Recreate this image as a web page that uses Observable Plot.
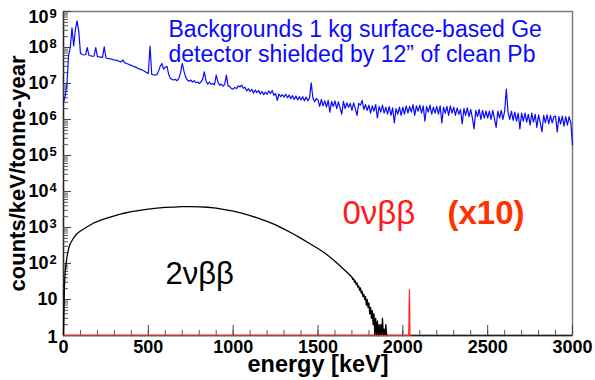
<!DOCTYPE html>
<html><head><meta charset="utf-8">
<script src="https://cdn.jsdelivr.net/npm/d3@7"></script>
<script src="https://cdn.jsdelivr.net/npm/@observablehq/plot@0.6"></script>
<style>body{margin:0;background:#fff}</style>
</head><body><div id="chart"></div>
<script>
// ---- data ----
// background spectrum (counts/keV/tonne-year), 10 keV bins from 0 to 3000 keV
const bgBinWidth = 10;
const bgCounts = [
 3.0e6,4.5e6,9e6,6e7,1.0e8,3.5e8,1.1e8,3.2e8,5.5e8,2.8e8,
 7.0e7,6.4e7,6.2e7,6.3e7,1.0e8,6.0e7,5.9e7,5.7e7,5.8e7,1.0e8,
 5.6e7,5.5e7,5.4e7,5.3e7,1.05e8,5.2e7,5.0e7,4.9e7,4.8e7,4.6e7,
 4.5e7,4.4e7,4.3e7,4.1e7,4.0e7,4.5e7,3.8e7,3.6e7,3.5e7,3.3e7,
 3.2e7,3.0e7,2.9e7,2.8e7,2.6e7,2.5e7,2.4e7,2.3e7,2.15e7,2.0e7,
 1.9e7,1.1e8,1.8e7,1.75e7,1.7e7,1.75e7,2.2e7,3.0e7,3.6e7,2.5e7,
 2.8e7,3.0e7,1.8e7,1.4e7,1.3e7,1.25e7,1.3e7,1.2e7,1.4e7,2.0e7,
 3.6e7,2.2e7,1.5e7,1.25e7,1.15e7,1.25e7,1.1e7,1.2e7,1.05e7,1.1e7,
 1.0e7,1.1e7,1.3e7,2.1e7,1.2e7,9.6e6,1.1e7,9.4e6,1.0e7,9.2e6,
 1.7e7,1.1e7,9.0e6,9.6e6,8.5e6,9.3e6,1.7e7,8.6e6,8.2e6,7.2e6,
 7.0e6,7.8e6,7.2e6,8.6e6,8.0e6,9.0e6,7.4e6,7.8e6,6.2e6,7.2e6,
 6.0e6,6.9e6,5.4e6,6.6e6,5.6e6,6.4e6,5.1e6,6.0e6,4.9e6,5.8e6,
 5.0e6,6.2e6,5.3e6,6.4e6,4.7e6,5.2e6,3.4e6,5.1e6,4.3e6,4.9e6,
 4.2e6,5.0e6,4.0e6,4.8e6,3.8e6,4.6e6,3.6e6,4.5e6,3.5e6,4.3e6,
 3.5e6,4.3e6,3.3e6,4.2e6,3.3e6,4.0e6,1.05e7,3.9e6,3.1e6,3.8e6,
 3.5e6,2.3e6,3.6e6,2.4e6,3.3e6,2.2e6,3.4e6,1.6e6,3.2e6,2.3e6,
 3.3e6,2.0e6,3.1e6,2.1e6,1.4e6,3.2e6,2.0e6,2.9e6,2.2e6,2.8e6,
 1.8e6,2.9e6,2.0e6,1.3e6,2.8e6,2.5e6,3.4e6,1.9e6,2.6e6,1.8e6,
 2.5e6,1.5e6,2.4e6,1.7e6,2.6e6,1.1e6,2.3e6,1.6e6,2.5e6,1.5e6,
 2.2e6,1.4e6,2.3e6,1.3e6,2.1e6,8.0e5,2.0e6,1.4e6,2.2e6,1.3e6,
 2.2e6,1.4e6,2.4e6,1.5e6,2.3e6,1.6e6,2.6e6,1.3e6,2.4e6,1.7e6,
 2.5e6,1.5e6,2.4e6,9.0e5,2.3e6,1.6e6,2.5e6,1.4e6,2.2e6,1.5e6,
 2.3e6,1.4e6,2.4e6,8.0e5,2.2e6,1.5e6,2.3e6,1.3e6,2.4e6,1.5e6,
 2.2e6,1.3e6,2.1e6,1.4e6,1.9e6,7.5e5,2.0e6,1.3e6,2.1e6,1.2e6,
 1.9e6,1.1e6,5.5e5,1.8e6,1.2e6,1.9e6,1.0e6,1.8e6,1.1e6,1.7e6,
 1.1e6,1.7e6,1.0e6,1.8e6,1.05e6,6.0e5,1.7e6,1.1e6,1.8e6,1.0e6,
 1.7e6,7.0e6,1.6e6,1.0e6,1.7e6,9.5e5,1.6e6,9.0e5,1.5e6,5.5e5,
 1.5e6,9.0e5,1.5e6,8.5e5,1.4e6,7.0e5,1.5e6,8.5e5,1.4e6,6.0e5,
 1.35e6,8.0e5,4.5e5,1.3e6,8.0e5,1.35e6,7.5e5,1.3e6,8.0e5,1.2e6,
 1.25e6,4.5e5,1.2e6,7.5e5,1.25e6,6.5e5,1.2e6,7.0e5,1.2e6,8.0e5,
 2.0e5
];
// 2νββ spectrum
const twoNuEnergy = [0,5,10,20,30,40,60,80,100,140,180,220,260,300,350,400,450,500,550,600,650,700,750,800,850,900,950,1000,1050,1100,1150,1200,1250,1300,1350,1400,1450,1500,1550,1600,1650,1700,1705,1710,1715,1720,1725,1730,1735,1740,1745,1750,1755,1760,1765,1770,1775,1780,1785,1790,1795,1800,1805,1810,1815,1820,1825,1830,1835,1840,1845,1850,1855,1860,1865,1870,1875,1880,1885,1890,1895,1900,1905,1910];
const twoNuCounts = [1,20,60,150,260,360,520,680,800,1050,1350,1600,1850,2100,2450,2750,3000,3250,3450,3600,3700,3780,3800,3760,3650,3450,3150,2850,2500,2150,1800,1480,1180,900,680,500,360,260,180,115,70,42,36,38,30,33,26,29,22,24,18,21,15,17,12,14,10,12,7,10,6,8,4,6,3,5,2,4,1,3,1,2.5,1,2,1,2,1,3,1,1.5,1,2,1,1];
// 0νββ (x10)
const zeroNuEnergy = [0,2034,2036,2037,2038,2039,2040,2041,2042,2045];
const zeroNuCounts = [1,1,2,7,12,19,10,4,1,1];
// axis ticks
const xMajorTicks = [0,500,1000,1500,2000,2500,3000];
const xMinorTicks = d3.range(0,3001,100);
const yPowers = [0,1,2,3,4,5,6,7,8,9];
const yMinorMult = [2,3,4,5,6,7,8,9];
// text
const bgLabel = "Backgrounds 1 kg surface-based Ge\ndetector shielded by 12\u201d of clean Pb";
const zeroNuLabel = "0νββ";
const zeroNuScale = "(x10)";
const twoNuLabel = "2νββ";
const xLabel = "energy [keV]";
const yLabel = "counts/keV/tonne-year";

// ---- build ----
const W = 595, H = 380, mL = 63, mR = 23, mT = 11, mB = 45;
const pw = W - mL - mR, ph = H - mT - mB;
const FONT = "'Liberation Sans', Arial, Helvetica, sans-serif";
const bg = bgCounts.map((c, i) => ({e: i * bgBinWidth, c}));
const twoNu = twoNuEnergy.map((e, i) => ({e, c: twoNuCounts[i]}));
const zeroNu = zeroNuEnergy.map((e, i) => ({e, c: zeroNuCounts[i]}));
const yMajor = yPowers.map(p => 10 ** p);
const yMinor = yPowers.slice(0, -1).flatMap(p => yMinorMult.map(m => m * 10 ** p));
const powLabels = yPowers.filter(p => p >= 2);

const chart = Plot.plot({
  width: W, height: H,
  marginLeft: mL, marginRight: mR, marginTop: mT, marginBottom: mB,
  x: {domain: [0, 3000], axis: null},
  y: {type: "log", domain: [1, 1e9], axis: null},
  style: {fontFamily: FONT, background: "#fff", color: "#000"},
  marks: [
    Plot.frame({stroke: "#7a7a7a", strokeWidth: 1.5}),
    Plot.ruleX([0], {stroke: "#222", strokeWidth: 1.3}),
    Plot.ruleY([1], {stroke: "#222", strokeWidth: 1.3}),
    Plot.ruleY(yMinor, {y: d => d, stroke: "#555", insetRight: pw - 5}),
    Plot.ruleY(yMajor, {y: d => d, stroke: "#444", insetRight: pw - 8}),
    Plot.ruleX(xMinorTicks, {x: d => d, stroke: "#555", insetTop: ph - 5}),
    Plot.ruleX(xMajorTicks, {x: d => d, stroke: "#444", insetTop: ph - 10}),
    Plot.line(bg, {x: "e", y: "c", stroke: "#0a0aff", strokeWidth: 1.2}),
    Plot.line(twoNu, {x: "e", y: "c", stroke: "#000", strokeWidth: 1.3}),
    Plot.line(zeroNu, {x: "e", y: "c", stroke: "#ff2020", strokeWidth: 1.1}),
    // y tick labels
    Plot.text(powLabels.filter(p => p < 9), {y: p => 10 ** p, text: () => "10", frameAnchor: "left", textAnchor: "end", lineAnchor: "top", dx: -15, dy: -7, fontSize: 18, fontWeight: "bold"}),
    Plot.text(powLabels.filter(p => p < 9), {y: p => 10 ** p, text: p => String(p), frameAnchor: "left", textAnchor: "start", lineAnchor: "top", dx: -14, dy: -9, fontSize: 13, fontWeight: "bold"}),
    Plot.text([9], {y: p => 10 ** p, text: () => "10", frameAnchor: "left", textAnchor: "end", lineAnchor: "top", dx: -15, dy: -1, fontSize: 18, fontWeight: "bold"}),
    Plot.text([9], {y: p => 10 ** p, text: p => String(p), frameAnchor: "left", textAnchor: "start", lineAnchor: "top", dx: -14, dy: -3, fontSize: 13, fontWeight: "bold"}),
    Plot.text([1], {y: p => 10 ** p, text: () => "10", frameAnchor: "left", textAnchor: "end", lineAnchor: "middle", dx: -6, fontSize: 18, fontWeight: "bold"}),
    Plot.text([0], {y: p => 10 ** p, text: () => "1", frameAnchor: "left", textAnchor: "end", lineAnchor: "middle", dx: -6, dy: 2, fontSize: 18, fontWeight: "bold"}),
    // x tick labels
    Plot.text(xMajorTicks, {x: d => d, text: d => String(d), frameAnchor: "bottom", lineAnchor: "top", dy: 5, fontSize: 18, fontWeight: "bold"}),
    // axis titles
    Plot.text([xLabel], {text: d => d, frameAnchor: "bottom", lineAnchor: "bottom", dy: 36, fontSize: 23.5, fontWeight: "bold"}),
    Plot.text([yLabel], {text: d => d, frameAnchor: "left", rotate: -90, lineAnchor: "bottom", textAnchor: "middle", dx: -39, fontSize: 22, fontWeight: "bold"}),
    // annotations
    Plot.text([bgLabel], {text: d => d, frameAnchor: "top-left", textAnchor: "start", lineAnchor: "top", dx: 105, dy: 7.5, fontSize: 23, lineHeight: 1.09, fill: "#0a0aff"}),
    Plot.text([zeroNuLabel], {text: d => d, frameAnchor: "top-left", textAnchor: "start", lineAnchor: "bottom", dx: 279, dy: 212, fontSize: 33, fill: "#ff1a1a"}),
    Plot.text([zeroNuScale], {text: d => d, frameAnchor: "top-left", textAnchor: "start", lineAnchor: "bottom", dx: 384, dy: 212, fontSize: 33, fontWeight: "bold", fill: "#ff3300"}),
    Plot.text([twoNuLabel], {text: d => d, frameAnchor: "top-left", textAnchor: "start", lineAnchor: "bottom", dx: 102, dy: 272, fontSize: 31, fill: "#000"})
  ]
});
document.getElementById("chart").appendChild(chart);
</script>
</body></html>
